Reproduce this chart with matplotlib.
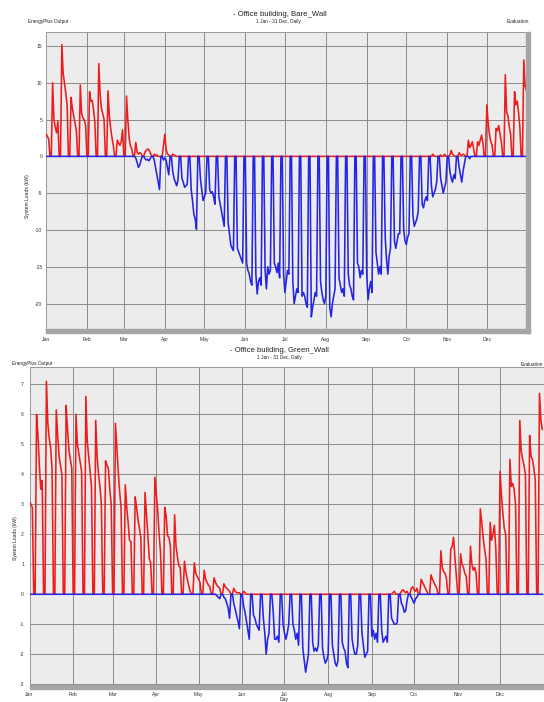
import numpy as np
import matplotlib
matplotlib.use("Agg")
import matplotlib.pyplot as plt
from matplotlib.patches import Rectangle

plt.rcParams['font.family'] = ['Liberation Sans', 'DejaVu Sans']

MONTHS = ['Jan', 'Feb', 'Mar', 'Apr', 'May', 'Jun',
          'Jul', 'Aug', 'Sep', 'Oct', 'Nov', 'Dec']
MONTH_START = [0, 31, 59, 90, 120, 151, 181, 212, 243, 273, 304, 334]

# daily loads (kW), 1 Jan (Wed) .. 31 Dec, one line per Mon-Sun week
HEAT_BARE = [
    3.1, 2.7, 2.4, 0, 0,                 # Jan 1
    10.0, 5.0, 4.0, 3.2, 4.8, 0, 0,      # Jan 6
    15.2, 11.3, 10.0, 8.6, 7.0, 0, 0,    # Jan 13
    8.0, 6.5, 5.5, 4.5, 3.5, 0, 0,       # Jan 20
    9.7, 5.8, 5.2, 5.0, 4.2, 0, 0,       # Jan 27
    8.8, 7.5, 7.6, 6.4, 4.6, 0, 0,       # Feb 3
    12.6, 8.5, 6.5, 5.8, 5.0, 0, 0,      # Feb 10
    8.9, 5.5, 3.8, 2.5, 1.5, 0, 0,       # Feb 17
    2.2, 1.8, 1.5, 2.0, 3.6, 0, 0,       # Feb 24
    8.2, 5.0, 2.5, 1.4, 1.0, 0, 0,       # Mar 3
    1.9, 0.6, 0.3, 0.5, 0.4, 0, 0,       # Mar 10
    0.6, 0.8, 1.0, 0.9, 0.5, 0, 0,       # Mar 17
    0.3, 0.1, 0.2, 0, 0, 0, 0,           # Mar 24
    1.5, 3.0, 1.0, 0.3, 0.2, 0, 0,       # Mar 31
    0.3, 0.2, 0.1, 0, 0, 0, 0,           # Apr 7
    0, 0, 0, 0, 0, 0, 0,                 # Apr 14
    0, 0, 0, 0, 0, 0, 0,                 # Apr 21
    0, 0, 0, 0, 0, 0, 0,                 # Apr 28
    0, 0, 0, 0, 0, 0, 0,                 # May 5
    0, 0, 0, 0, 0, 0, 0,                 # May 12
    0, 0, 0, 0, 0, 0, 0,                 # May 19
    0, 0, 0, 0, 0, 0, 0,                 # May 26
    0, 0, 0, 0, 0, 0, 0,                 # Jun 2
    0, 0, 0, 0, 0, 0, 0,                 # Jun 9
    0, 0, 0, 0, 0, 0, 0,                 # Jun 16
    0, 0, 0, 0, 0, 0, 0,                 # Jun 23
    0, 0, 0, 0, 0, 0, 0,                 # Jun 30
    0, 0, 0, 0, 0, 0, 0,                 # Jul 7
    0, 0, 0, 0, 0, 0, 0,                 # Jul 14
    0, 0, 0, 0, 0, 0, 0,                 # Jul 21
    0, 0, 0, 0, 0, 0, 0,                 # Jul 28
    0, 0, 0, 0, 0, 0, 0,                 # Aug 4
    0, 0, 0, 0, 0, 0, 0,                 # Aug 11
    0, 0, 0, 0, 0, 0, 0,                 # Aug 18
    0, 0, 0, 0, 0, 0, 0,                 # Aug 25
    0, 0, 0, 0, 0, 0, 0,                 # Sep 1
    0, 0, 0, 0, 0, 0, 0,                 # Sep 8
    0, 0, 0, 0, 0, 0, 0,                 # Sep 15
    0, 0, 0, 0, 0, 0, 0,                 # Sep 22
    0, 0, 0, 0, 0, 0, 0,                 # Sep 29
    0, 0, 0, 0, 0, 0, 0,                 # Oct 6
    0, 0, 0, 0, 0, 0, 0,                 # Oct 13
    0, 0.3, 0.1, 0, 0, 0, 0,             # Oct 20
    0.2, 0, 0, 0.3, 0, 0, 0,             # Oct 27
    0.2, 0.8, 0.3, 0.1, 0, 0, 0,         # Nov 3
    0.5, 0.2, 0.1, 0.3, 0.2, 0, 0,       # Nov 10
    2.2, 1.2, 1.5, 2.0, 1.0, 0, 0,       # Nov 17
    2.0, 1.5, 2.2, 2.9, 1.8, 0, 0,       # Nov 24
    7.0, 4.5, 3.0, 2.0, 1.5, 0, 0,       # Dec 1
    3.8, 3.5, 4.2, 3.0, 2.0, 0, 0,       # Dec 8
    11.1, 6.0, 5.5, 4.0, 3.0, 0, 0,      # Dec 15
    8.8, 7.0, 7.5, 6.0, 4.0, 0, 0,       # Dec 22
    13.1, 9.5, 9.0,                      # Dec 29
]

COOL_BARE = [
    0, 0, 0, 0, 0,                               # Jan 1
    0, 0, 0, 0, 0, 0, 0,                         # Jan 6
    0, 0, 0, 0, 0, 0, 0,                         # Jan 13
    0, 0, 0, 0, 0, 0, 0,                         # Jan 20
    0, 0, 0, 0, 0, 0, 0,                         # Jan 27
    0, 0, 0, 0, 0, 0, 0,                         # Feb 3
    0, 0, 0, 0, 0, 0, 0,                         # Feb 10
    0, 0, 0, 0, 0, 0, 0,                         # Feb 17
    0, 0, 0, 0, 0, 0, 0,                         # Feb 24
    0, 0, 0, 0, 0, 0, 0,                         # Mar 3
    -0.2, -0.8, -1.5, -1.2, -0.5, 0, 0,          # Mar 10
    -0.3, -0.5, -0.4, -0.6, -0.3, 0, 0,          # Mar 17
    -0.5, -1.5, -2.5, -3.5, -4.5, 0, 0,          # Mar 24
    -0.5, -0.2, -0.5, -1.5, -2.5, 0, 0,          # Mar 31
    -2.0, -3.0, -3.5, -4.0, -3.2, 0, 0,          # Apr 7
    -3.0, -3.5, -4.2, -4.0, -3.8, 0, 0,          # Apr 14
    -4.5, -6.0, -7.8, -8.5, -9.9, 0, 0,          # Apr 21
    -3.0, -4.5, -6.0, -5.5, -5.0, 0, 0,          # Apr 28
    -4.5, -5.0, -4.8, -5.5, -6.5, 0, 0,          # May 5
    -5.5, -6.5, -7.5, -8.5, -9.5, 0, 0,          # May 12
    -9.0, -10.5, -12.0, -12.5, -12.8, 0, 0,      # May 19
    -12.5, -13.0, -13.5, -14.0, -14.5, 0, 0,     # May 26
    -14.5, -15.5, -16.0, -17.0, -17.5, 0, 0,     # Jun 2
    -16.0, -18.7, -17.0, -16.5, -17.5, 0, 0,     # Jun 9
    -15.5, -18.0, -15.0, -16.0, -15.5, 0, 0,     # Jun 16
    -14.5, -15.0, -15.8, -14.5, -16.5, 0, 0,     # Jun 23
    -16.0, -18.5, -17.0, -15.5, -16.0, 0, 0,     # Jun 30
    -17.0, -20.0, -19.0, -18.0, -18.5, 0, 0,     # Jul 7
    -19.0, -18.5, -19.0, -20.0, -20.5, 0, 0,     # Jul 14
    -21.8, -20.5, -19.5, -18.5, -19.0, 0, 0,     # Jul 21
    -17.0, -18.5, -19.5, -20.0, -19.0, 0, 0,     # Jul 28
    -20.5, -21.8, -20.0, -19.0, -18.0, 0, 0,     # Aug 4
    -16.5, -17.5, -18.5, -18.0, -19.0, 0, 0,     # Aug 11
    -16.0, -17.5, -18.0, -19.0, -19.5, 0, 0,     # Aug 18
    -14.5, -15.0, -16.5, -15.5, -16.0, 0, 0,     # Aug 25
    -16.0, -19.5, -18.0, -17.0, -18.5, 0, 0,     # Sep 1
    -13.0, -14.5, -16.0, -15.0, -16.0, 0, 0,     # Sep 8
    -11.0, -14.0, -16.0, -13.5, -12.5, 0, 0,     # Sep 15
    -11.5, -12.5, -11.5, -10.5, -10.5, 0, 0,     # Sep 22
    -10.0, -11.5, -12.0, -11.0, -10.5, 0, 0,     # Sep 29
    -8.0, -9.5, -9.0, -8.5, -7.5, 0, 0,          # Oct 6
    -6.5, -7.0, -6.0, -5.5, -6.0, 0, 0,          # Oct 13
    -4.0, -5.5, -5.0, -4.5, -3.5, 0, 0,          # Oct 20
    -3.0, -4.0, -5.0, -4.2, -3.5, 0, 0,          # Oct 27
    -2.0, -3.0, -3.5, -2.5, -3.0, 0, 0,          # Nov 3
    -1.5, -2.5, -3.5, -2.0, -1.0, 0, 0,          # Nov 10
    0, -0.3, 0, 0, 0, 0, 0,                      # Nov 17
    0, 0, 0, 0, 0, 0, 0,                         # Nov 24
    0, 0, 0, 0, 0, 0, 0,                         # Dec 1
    0, 0, 0, 0, 0, 0, 0,                         # Dec 8
    0, 0, 0, 0, 0, 0, 0,                         # Dec 15
    0, 0, 0, 0, 0, 0, 0,                         # Dec 22
    0, 0, 0,                                     # Dec 29
]

HEAT_GREEN = [
    3.1, 3.0, 2.9, 0, 0,                 # Jan 1
    6.0, 5.3, 4.3, 3.5, 3.8, 0, 0,       # Jan 6
    7.1, 5.7, 5.2, 4.9, 4.2, 0, 0,       # Jan 13
    6.15, 5.3, 4.6, 4.3, 4.0, 0, 0,      # Jan 20
    6.3, 5.5, 4.8, 4.5, 4.2, 0, 0,       # Jan 27
    6.0, 5.0, 4.7, 4.4, 4.1, 0, 0,       # Feb 3
    6.6, 5.1, 4.6, 4.1, 3.6, 0, 0,       # Feb 10
    5.8, 4.6, 4.0, 3.6, 3.0, 0, 0,       # Feb 17
    4.45, 4.3, 4.2, 3.5, 3.0, 0, 0,      # Feb 24
    5.7, 4.9, 4.1, 3.4, 2.9, 0, 0,       # Mar 3
    3.65, 2.9, 2.4, 1.8, 1.75, 0, 0,     # Mar 10
    3.25, 2.9, 2.5, 2.2, 1.9, 0, 0,      # Mar 17
    3.4, 2.7, 2.0, 1.2, 1.05, 0, 0,      # Mar 24
    3.9, 3.35, 2.8, 2.0, 1.4, 0, 0,      # Mar 31
    2.9, 2.6, 1.95, 1.9, 1.6, 0, 0,      # Apr 7
    2.65, 1.6, 1.25, 0.95, 0.9, 0, 0,    # Apr 14
    1.1, 0.75, 0.5, 0.3, 0.1, 0, 0,      # Apr 21
    1.05, 0.7, 0.6, 0.5, 0.4, 0, 0,      # Apr 28
    0.8, 0.5, 0.4, 0.3, 0.25, 0, 0,      # May 5
    0.55, 0.4, 0.3, 0.25, 0.2, 0, 0,     # May 12
    0.35, 0.25, 0.2, 0.15, 0.1, 0, 0,    # May 19
    0.2, 0.1, 0.05, 0.05, 0.05, 0, 0,    # May 26
    0.1, 0.05, 0, 0, 0, 0, 0,            # Jun 2
    0, 0, 0, 0, 0, 0, 0,                 # Jun 9
    0, 0, 0, 0, 0, 0, 0,                 # Jun 16
    0, 0, 0, 0, 0, 0, 0,                 # Jun 23
    0, 0, 0, 0, 0, 0, 0,                 # Jun 30
    0, 0, 0, 0, 0, 0, 0,                 # Jul 7
    0, 0, 0, 0, 0, 0, 0,                 # Jul 14
    0, 0, 0, 0, 0, 0, 0,                 # Jul 21
    0, 0, 0, 0, 0, 0, 0,                 # Jul 28
    0, 0, 0, 0, 0, 0, 0,                 # Aug 4
    0, 0, 0, 0, 0, 0, 0,                 # Aug 11
    0, 0, 0, 0, 0, 0, 0,                 # Aug 18
    0, 0, 0, 0, 0, 0, 0,                 # Aug 25
    0, 0, 0, 0, 0, 0, 0,                 # Sep 1
    0, 0, 0, 0, 0, 0, 0,                 # Sep 8
    0, 0.05, 0.1, 0, 0, 0, 0,            # Sep 15
    0.1, 0.15, 0.1, 0.05, 0.1, 0, 0,     # Sep 22
    0.2, 0.25, 0.15, 0.1, 0.2, 0, 0,     # Sep 29
    0.5, 0.4, 0.3, 0.2, 0.1, 0, 0,       # Oct 6
    0.65, 0.5, 0.4, 0.3, 0.2, 0, 0,      # Oct 13
    1.45, 0.9, 0.75, 0.7, 0.5, 0, 0,     # Oct 20
    1.5, 1.6, 1.9, 1.2, 0.6, 0, 0,       # Oct 27
    1.35, 1.0, 0.9, 0.7, 0.6, 0, 0,      # Nov 3
    1.6, 1.0, 0.8, 0.9, 0.7, 0, 0,       # Nov 10
    2.85, 2.4, 1.9, 1.5, 1.2, 0, 0,      # Nov 17
    2.4, 1.8, 2.0, 2.3, 1.5, 0, 0,       # Nov 24
    4.1, 3.3, 2.7, 2.2, 2.0, 0, 0,       # Dec 1
    4.5, 3.6, 3.7, 3.5, 3.0, 0, 0,       # Dec 8
    5.8, 4.8, 4.5, 4.3, 4.0, 0, 0,       # Dec 15
    5.3, 4.6, 4.5, 4.2, 3.8, 0, 0,       # Dec 22
    6.7, 5.8, 5.5,                       # Dec 29
]

COOL_GREEN = [
    0, 0, 0, 0, 0,                               # Jan 1
    0, 0, 0, 0, 0, 0, 0,                         # Jan 6
    0, 0, 0, 0, 0, 0, 0,                         # Jan 13
    0, 0, 0, 0, 0, 0, 0,                         # Jan 20
    0, 0, 0, 0, 0, 0, 0,                         # Jan 27
    0, 0, 0, 0, 0, 0, 0,                         # Feb 3
    0, 0, 0, 0, 0, 0, 0,                         # Feb 10
    0, 0, 0, 0, 0, 0, 0,                         # Feb 17
    0, 0, 0, 0, 0, 0, 0,                         # Feb 24
    0, 0, 0, 0, 0, 0, 0,                         # Mar 3
    0, 0, 0, 0, 0, 0, 0,                         # Mar 10
    0, 0, 0, 0, 0, 0, 0,                         # Mar 17
    0, 0, 0, 0, 0, 0, 0,                         # Mar 24
    0, 0, 0, 0, 0, 0, 0,                         # Mar 31
    0, 0, 0, 0, 0, 0, 0,                         # Apr 7
    0, 0, 0, 0, 0, 0, 0,                         # Apr 14
    0, 0, 0, 0, 0, 0, 0,                         # Apr 21
    0, 0, 0, 0, 0, 0, 0,                         # Apr 28
    0, 0, 0, 0, 0, 0, 0,                         # May 5
    0, 0, -0.05, -0.1, -0.15, 0, 0,              # May 12
    -0.1, -0.15, -0.3, -0.45, -0.8, 0, 0,        # May 19
    -0.3, -0.5, -0.7, -0.9, -1.15, 0, 0,         # May 26
    -0.4, -0.6, -0.9, -1.2, -1.5, 0, 0,          # Jun 2
    -0.7, -0.8, -1.0, -1.1, -1.2, 0, 0,          # Jun 9
    -0.8, -1.3, -2.0, -1.5, -1.3, 0, 0,          # Jun 16
    -0.6, -1.5, -1.5, -1.4, -1.6, 0, 0,          # Jun 23
    -1.0, -1.3, -1.5, -1.3, -1.0, 0, 0,          # Jun 30
    -1.0, -1.2, -1.5, -1.3, -1.7, 0, 0,          # Jul 7
    -1.8, -2.2, -2.6, -2.3, -2.0, 0, 0,          # Jul 14
    -1.6, -1.9, -1.8, -1.9, -1.7, 0, 0,          # Jul 21
    -1.8, -2.1, -2.3, -2.2, -2.0, 0, 0,          # Jul 28
    -1.7, -2.0, -2.3, -2.4, -2.2, 0, 0,          # Aug 4
    -1.6, -1.8, -1.9, -2.3, -2.45, 0, 0,         # Aug 11
    -1.5, -1.8, -2.0, -2.0, -1.7, 0, 0,          # Aug 18
    -1.3, -1.7, -2.1, -2.0, -1.9, 0, 0,          # Aug 25
    -1.4, -1.2, -1.5, -1.3, -1.6, 0, 0,          # Sep 1
    -1.2, -1.6, -1.5, -1.4, -1.6, 0, 0,          # Sep 8
    -0.8, -0.9, -1.0, -1.0, -0.95, 0, 0,         # Sep 15
    -0.3, -0.4, -0.6, -0.55, -0.2, 0, 0,         # Sep 22
    -0.1, -0.2, -0.3, -0.15, -0.1, 0, 0,         # Sep 29
    0, 0, 0, 0, 0, 0, 0,                         # Oct 6
    0, 0, 0, 0, 0, 0, 0,                         # Oct 13
    0, 0, 0, 0, 0, 0, 0,                         # Oct 20
    0, 0, 0, 0, 0, 0, 0,                         # Oct 27
    0, 0, 0, 0, 0, 0, 0,                         # Nov 3
    0, 0, 0, 0, 0, 0, 0,                         # Nov 10
    0, 0, 0, 0, 0, 0, 0,                         # Nov 17
    0, 0, 0, 0, 0, 0, 0,                         # Nov 24
    0, 0, 0, 0, 0, 0, 0,                         # Dec 1
    0, 0, 0, 0, 0, 0, 0,                         # Dec 8
    0, 0, 0, 0, 0, 0, 0,                         # Dec 15
    0, 0, 0, 0, 0, 0, 0,                         # Dec 22
    0, 0, 0,                                     # Dec 29
]

YTICKS_BARE = [-20, -15, -10, -5, 0, 5, 10, 15]
YTICKS_GREEN = [-3, -2, -1, 0, 1, 2, 3, 4, 5, 6, 7]

RED = '#ee1c1c'
BLUE = '#2424e6'
GRID = '#8a8a8a'


def draw_panel(ax, heat, cool, yticks, ylim, xlim, right_bar, ypad, xpad):
    days = np.arange(len(heat))
    ax.set_facecolor('#ececec')
    ax.plot(days, heat, color=RED, lw=1.15, zorder=3)
    ax.plot(days, cool, color=BLUE, lw=1.15, zorder=3)
    ax.set_xlim(*xlim)
    ax.set_ylim(*ylim)
    ax.set_xticks(MONTH_START)
    ax.set_xticklabels(MONTHS)
    ax.set_yticks(yticks)
    ax.set_yticklabels([str(t) for t in yticks])
    ax.grid(True, color=GRID, lw=0.7, zorder=1)
    ax.set_axisbelow(True)
    ax.tick_params(length=0, labelsize=3.6, colors='#333333')
    ax.tick_params(axis='y', pad=ypad)
    ax.tick_params(axis='x', pad=xpad)
    for s in ax.spines.values():
        s.set_color('#9a9a9a')
        s.set_linewidth(0.7)
    # 3D-looking scroll strips of the original viewer
    ax.add_patch(Rectangle((0, 0), 1, 0.013, transform=ax.transAxes,
                           color='#a5a5a5', zorder=4, clip_on=False))
    if right_bar:
        ax.add_patch(Rectangle((0.992, 0), 0.008, 1, transform=ax.transAxes,
                               color='#a5a5a5', zorder=4, clip_on=False))


lengths = [len(a) for a in (HEAT_BARE, COOL_BARE, HEAT_GREEN, COOL_GREEN)]
assert all(n == 365 for n in lengths), lengths

W, H = 544, 702
fig = plt.figure(figsize=(W / 100, H / 100), dpi=100)
fig.patch.set_facecolor('white')


def px_axes(left, top, right, bottom):
    return fig.add_axes([left / W, 1 - bottom / H, (right - left) / W, (bottom - top) / H])


ax1 = px_axes(46, 32, 530, 333)
draw_panel(ax1, HEAT_BARE, COOL_BARE, YTICKS_BARE, (-24.0, 16.9), (0, 366.7), True, 2.5, 3.0)

ax2 = px_axes(29.5, 367, 544, 689)
draw_panel(ax2, HEAT_GREEN, COOL_GREEN, YTICKS_GREEN, (-3.16, 7.58), (0, 365.2), False, 4.0, 2.0)


def ftext(x, y, s, size, ha='center'):
    fig.text(x / W, 1 - y / H, s, fontsize=size, ha=ha, va='center', color='#222222')


ftext(280, 14, '- Office building, Bare_Wall', 5.6)
ftext(278, 21, '1 Jan - 31 Dec, Daily', 3.4)
ftext(28, 21.5, 'EnergyPlus Output', 3.4, ha='left')
ftext(529, 21.5, 'Evaluation', 3.4, ha='right')

ftext(279, 350, '- Office building, Green_Wall', 5.6)
ftext(279, 358, '1 Jan - 31 Dec, Daily', 3.4)
ftext(12, 364, 'EnergyPlus Output', 3.4, ha='left')
ftext(543, 364, 'Evaluation', 3.4, ha='right')

fig.text(28 / W, 1 - 196 / H, 'System Loads (kW)', fontsize=3.6, rotation=90,
         ha='center', va='center', color='#222222')
fig.text(15 / W, 1 - 538 / H, 'System Loads (kW)', fontsize=3.6, rotation=90,
         ha='center', va='center', color='#222222')
ftext(284, 699, 'Day', 3.6)

fig.savefig('out.png', dpi=100, facecolor='white')
